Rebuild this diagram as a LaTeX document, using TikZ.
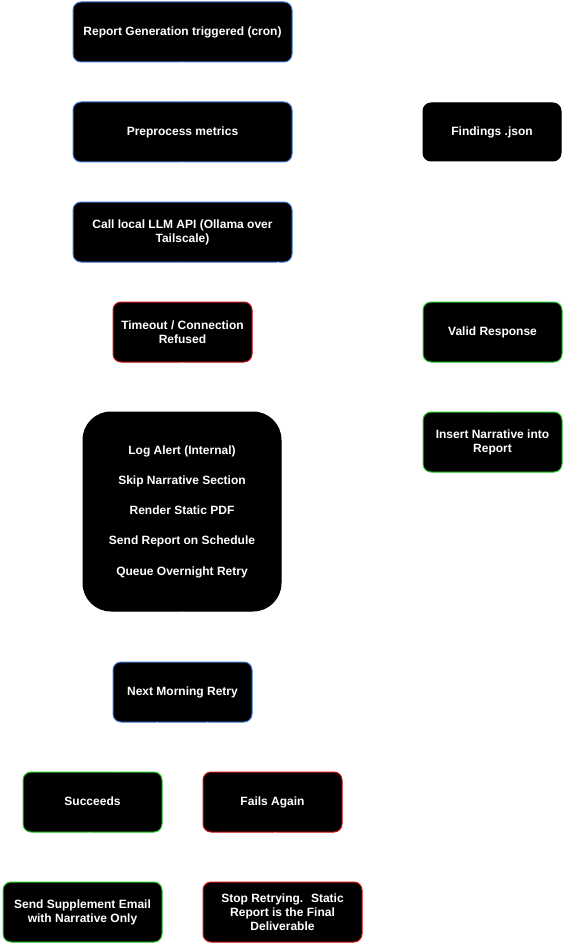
\documentclass[tikz,border=0pt]{standalone}
\usepackage{fontspec}
\setmainfont{Liberation Sans}
\usetikzlibrary{arrows.meta}
\definecolor{bblue}{HTML}{3A7BD5}
\definecolor{bred}{HTML}{D01010}
\definecolor{bgreen}{HTML}{22CC22}
\tikzset{
  box/.style={draw, fill=black, text=white, rounded corners=8pt, line width=1pt,
    align=center, font=\fontsize{12}{14}\selectfont\bfseries, inner sep=0pt},
  bluebox/.style={box, draw=bblue},
  redbox/.style={box, draw=bred},
  greenbox/.style={box, draw=bgreen},
  plainbox/.style={box, draw=black},
  link/.style={draw=white, line width=1pt, -{Stealth[length=6pt]}},
}
\begin{document}
\begin{tikzpicture}[x=1pt,y=-1pt]
\useasboundingbox[fill=white] (0,0) rectangle (566,952);
\node[bluebox, minimum width=219pt, minimum height=60pt] (trig) at (182.5,32) {Report Generation triggered (cron)};
\node[bluebox, minimum width=219pt, minimum height=60pt] (prep) at (182.5,132) {Preprocess metrics};
\node[bluebox, minimum width=219pt, minimum height=60pt] (call) at (182.5,232) {Call local LLM API (Ollama over\\Tailscale)};
\node[plainbox, minimum width=138pt, minimum height=58pt] (find) at (492,132) {Findings .json};
\node[redbox, minimum width=139pt, minimum height=60pt] (tout) at (182.5,332) {Timeout / Connection\\Refused};
\node[greenbox, minimum width=139pt, minimum height=60pt] (valid) at (492.5,332) {Valid Response};
\node[greenbox, minimum width=139pt, minimum height=60pt] (insert) at (492.5,442) {Insert Narrative into\\Report};
\node[plainbox, rounded corners=28pt, minimum width=198pt, minimum height=199pt, font=\fontsize{12}{15}\selectfont\bfseries] (fall) at (182,511.5)
  {Log Alert (Internal)\\[15.25pt]Skip Narrative Section\\[15.25pt]Render Static PDF\\[15.25pt]Send Report on Schedule\\[15.25pt]Queue Overnight Retry};
\node[bluebox, minimum width=139pt, minimum height=60pt] (retry) at (182.5,692) {Next Morning Retry};
\node[greenbox, minimum width=139pt, minimum height=60pt] (succ) at (92.5,802) {Succeeds\vphantom{g}};
\node[redbox, minimum width=139pt, minimum height=60pt] (fail) at (272.5,802) {Fails Again};
\node[greenbox, minimum width=159pt, minimum height=60pt] (supp) at (82.5,912) {Send Supplement Email\\with Narrative Only};
\node[redbox, minimum width=159pt, minimum height=60pt] (stop) at (282.5,912) {Stop Retrying.~ Static\\Report is the Final\\Deliverable};
\draw[link] (trig) -- (prep);
\draw[link] (prep) -- (call);
\draw[link] (prep) -- (find);
\draw[link] (call) -- (tout);
\draw[link] (call) -- (valid);
\draw[link] (valid) -- (insert);
\draw[link] (tout) -- (fall);
\draw[link] (fall) -- (retry);
\draw[link] (retry) -- (succ);
\draw[link] (retry) -- (fail);
\draw[link] (succ) -- (supp);
\draw[link] (fail) -- (stop);
\end{tikzpicture}
\end{document}
